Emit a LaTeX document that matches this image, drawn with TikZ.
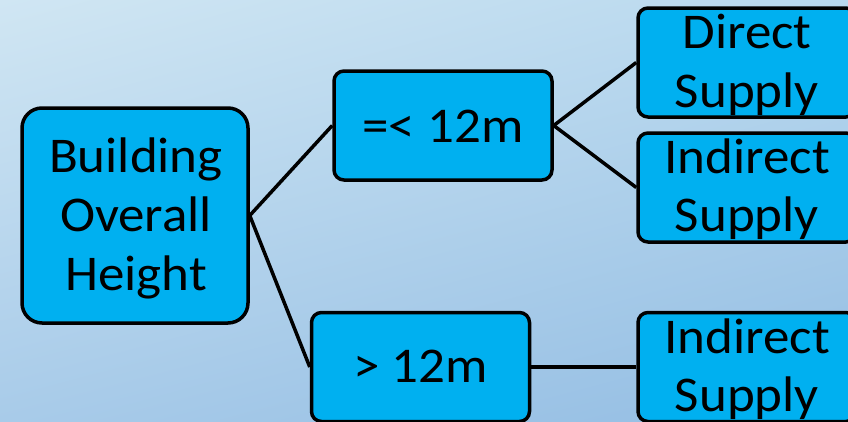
\documentclass[tikz,border=0pt]{standalone}
\usepackage{fontspec}
\setmainfont[FakeStretch=1.06]{Carlito}
\usetikzlibrary{shadings}
\definecolor{bgUL}{HTML}{D0E6F3}
\definecolor{bgUR}{HTML}{B8D8EE}
\definecolor{bgLL}{HTML}{A8CBE9}
\definecolor{bgLR}{HTML}{93BDE3}
\definecolor{boxfill}{HTML}{00B0F0}
\tikzset{
  box/.style={draw=black, line width=3.5pt, fill=boxfill, rounded corners=10pt,
    minimum width=218pt, minimum height=109pt, inner sep=0pt},
  bigbox/.style={box, rounded corners=20pt, minimum width=226pt, minimum height=215pt},
  lbl/.style={font=\fontsize{50}{59}\selectfont, align=center, inner sep=0pt},
  conn/.style={draw=black, line width=3.5pt}
}
\begin{document}
\begin{tikzpicture}[x=1pt,y=-1pt]
\useasboundingbox (0,0) rectangle (848,421);
\clip (0,0) rectangle (848,421);
\shade[upper left=bgUL, upper right=bgUR, lower left=bgLL, lower right=bgLR] (0,0) rectangle (848,421);
% boxes
\node[bigbox] (bo) at (135,215.5) {};
\node[box] (le) at (443,125.5) {};
\node[box] (gt) at (420.5,367) {};
\node[box] (ds) at (747,62.5) {};
\node[box] (is1) at (747,187.5) {};
\node[box] (is2) at (747,367) {};
% connectors
\draw[conn] (bo.east) -- (le.west);
\draw[conn] (bo.east) -- (gt.west);
\draw[conn] (le.east) -- (ds.west);
\draw[conn] (le.east) -- (is1.west);
\draw[conn] (gt.east) -- (is2.west);
% texts
\node[lbl, anchor=base] (tbo1) at (136,172) {Building};
\node[lbl, anchor=base] (tbo2) at (136,231) {Overall};
\node[lbl, anchor=base] (tbo3) at (136,290) {Height};
\node[lbl, anchor=base] (tle) at (443,142) {=< 12m};
\node[lbl, anchor=base] (tgt) at (420.5,382) {> 12m};
\node[lbl, anchor=base] (tds1) at (747,48) {Direct};
\node[lbl, anchor=base] (tds2) at (747,107) {Supply};
\node[lbl, anchor=base] (tis11) at (747,173) {Indirect};
\node[lbl, anchor=base] (tis12) at (747,231) {Supply};
\node[lbl, anchor=base] (tis21) at (747,353) {Indirect};
\node[lbl, anchor=base] (tis22) at (747,411) {Supply};
\end{tikzpicture}
\end{document}
